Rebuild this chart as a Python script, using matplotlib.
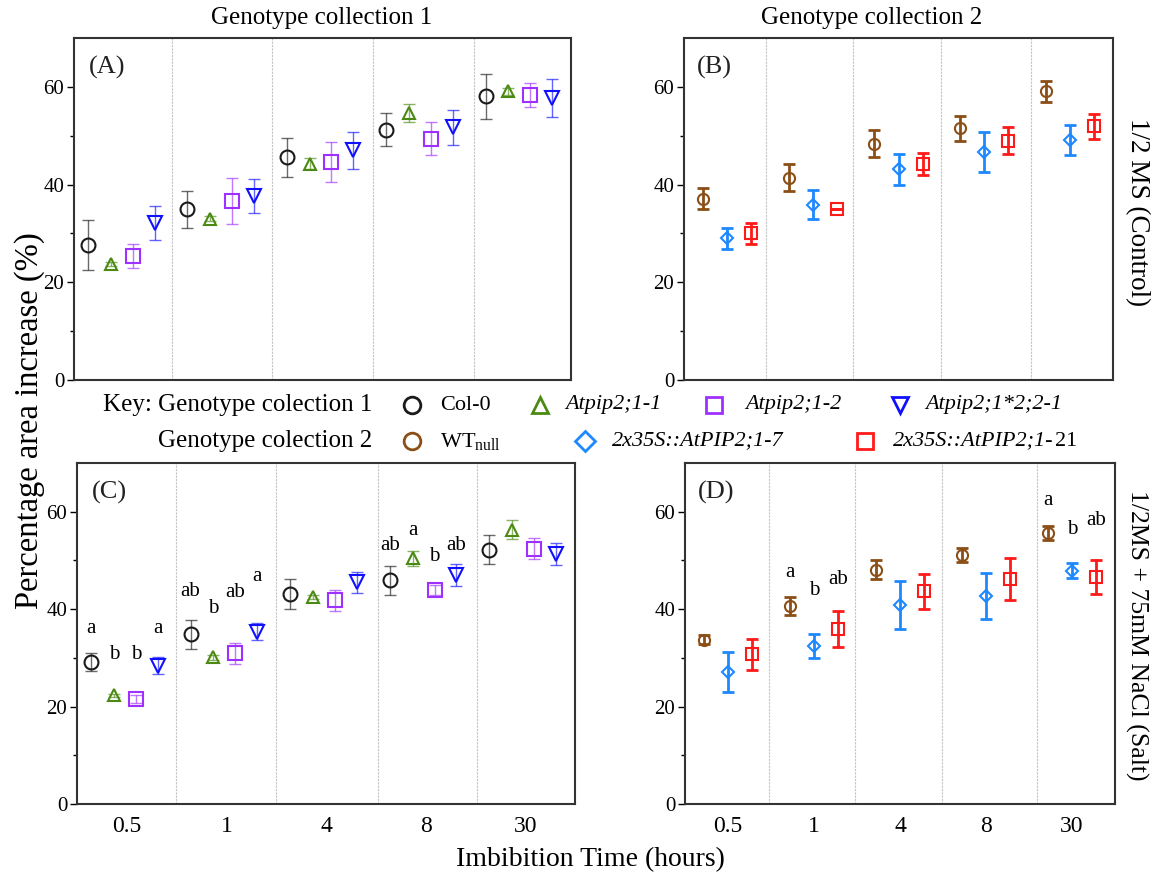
import matplotlib
matplotlib.use('Agg')
import matplotlib.pyplot as plt
import numpy as np

plt.rcParams['font.family'] = ['Liberation Serif', 'DejaVu Serif']
plt.rcParams['mathtext.fontset'] = 'custom'
plt.rcParams['mathtext.rm'] = 'Liberation Serif'
plt.rcParams['mathtext.it'] = 'Liberation Serif:italic'

times = ['0.5', '1', '4', '8', '30']

# genotype collection 1, control (A)
col0_A = [27.7, 34.9, 45.6, 51.2, 58.1]
col0_A_err = [5.1, 3.8, 4.0, 3.4, 4.6]
p11_A = [23.7, 33.0, 44.3, 54.7, 59.1]
p11_A_err = [0.4, 0.5, 1.2, 1.8, 0.7]
p12_A = [25.4, 36.6, 44.7, 49.4, 58.3]
p12_A_err = [2.5, 4.7, 4.1, 3.4, 2.4]
p1221_A = [32.1, 37.6, 47.0, 51.7, 57.8]
p1221_A_err = [3.5, 3.5, 3.8, 3.6, 3.9]

# genotype collection 2, control (B)
wt_B = [37.1, 41.4, 48.4, 51.5, 59.1]
wt_B_err = [2.1, 2.8, 2.8, 2.5, 2.2]
oe7_B = [29.0, 35.9, 43.1, 46.6, 49.1]
oe7_B_err = [2.1, 2.9, 3.1, 4.1, 3.1]
oe21_B = [30.0, 34.9, 44.2, 49.0, 51.9]
oe21_B_err = [2.1, 0.0, 2.2, 2.7, 2.6]

# genotype collection 1, salt (C)
col0_C = [29.2, 34.8, 43.1, 45.9, 52.2]
col0_C_err = [1.8, 3.0, 3.0, 3.0, 3.0]
p11_C = [22.3, 30.1, 42.5, 50.4, 56.3]
p11_C_err = [0.3, 0.5, 0.5, 1.6, 2.0]
p12_C = [21.6, 30.9, 41.8, 44.0, 52.4]
p12_C_err = [0.8, 2.1, 2.2, 1.0, 2.2]
p1221_C = [28.4, 35.4, 45.5, 47.0, 51.3]
p1221_C_err = [1.7, 1.8, 2.2, 2.2, 2.3]

# genotype collection 2, salt (D)
wt_D = [33.7, 40.6, 48.1, 51.1, 55.6]
wt_D_err = [0.9, 1.8, 2.0, 1.5, 1.4]
oe7_D = [27.1, 32.4, 40.9, 42.7, 47.9]
oe7_D_err = [4.2, 2.4, 4.9, 4.8, 1.5]
oe21_D = [30.7, 35.9, 43.7, 46.1, 46.6]
oe21_D_err = [3.1, 3.7, 3.6, 4.3, 3.5]

# significance letters: (group, series, letter, y)
letters_C = [(0, 0, 'a', 36.0), (0, 1, 'b', 30.6), (0, 2, 'b', 30.6), (0, 3, 'a', 36.0),
             (1, 0, 'ab', 43.6), (1, 1, 'b', 40.1), (1, 2, 'ab', 43.5), (1, 3, 'a', 46.8),
             (3, 0, 'ab', 53.0), (3, 1, 'a', 56.1), (3, 2, 'b', 50.8), (3, 3, 'ab', 53.0)]
letters_D = [(1, 0, 'a', 47.6), (1, 1, 'b', 43.9), (1, 2, 'ab', 46.0),
             (4, 0, 'a', 62.2), (4, 1, 'b', 56.4), (4, 2, 'ab', 58.2)]

# styles
c_black = '#1a1a1a'
c_green = '#4b8a12'
c_purple = '#a030ff'
c_blue = '#1010ff'
c_brown = '#8b4e16'
c_lblue = '#1e88ff'
c_red = '#ff1a1a'

set1 = [('o', c_black, 10), ('^', c_green, 9), ('s', c_purple, 10), ('v', c_blue, 10)]
set2 = [('o', c_brown, 8), ('D', c_lblue, 6.5), ('s', c_red, 8)]
off1 = [0.14, 0.37, 0.59, 0.81]
off2 = [0.22, 0.50, 0.78]

W, H = 1158, 881
fig = plt.figure(figsize=(W / 100, H / 100), dpi=100)


def px_axes(l, r, t, b):
    return fig.add_axes([l / W, 1 - b / H, (r - l) / W, (b - t) / H])


axA = px_axes(74, 571, 38, 380)
axB = px_axes(684, 1113, 38, 380)
axC = px_axes(77, 575, 463, 804)
axD = px_axes(685, 1115, 463, 804)

dividers = {'A': [0.99, 1.99, 3.01, 4.02], 'B': [0.96, 1.97, 2.99, 4.04],
            'C': [0.99, 2.0, 3.02, 4.02], 'D': [0.98, 1.98, 2.99, 4.09]}

panels = [
    (axA, 'A', set1, off1, [(col0_A, col0_A_err), (p11_A, p11_A_err), (p12_A, p12_A_err), (p1221_A, p1221_A_err)], None),
    (axB, 'B', set2, off2, [(wt_B, wt_B_err), (oe7_B, oe7_B_err), (oe21_B, oe21_B_err)], None),
    (axC, 'C', set1, off1, [(col0_C, col0_C_err), (p11_C, p11_C_err), (p12_C, p12_C_err), (p1221_C, p1221_C_err)], letters_C),
    (axD, 'D', set2, off2, [(wt_D, wt_D_err), (oe7_D, oe7_D_err), (oe21_D, oe21_D_err)], letters_D),
]

groups = np.arange(len(times))
for ax, name, styles, offs, series, letters in panels:
    first = name in ('A', 'C')
    for (vals, errs), (mk, col, ms), off in zip(series, styles, offs):
        x = groups + off
        if first:
            ax.errorbar(x, vals, yerr=errs, fmt='none', ecolor=col, alpha=0.65,
                        elinewidth=1.0, capsize=4, capthick=1.0, zorder=2)
        else:
            ax.errorbar(x, vals, yerr=errs, fmt='none', ecolor=col,
                        elinewidth=2.0, capsize=4, capthick=2.0, zorder=2)
        ax.plot(x, vals, linestyle='none', marker=mk, markersize=ms,
                markerfacecolor='none', markeredgecolor=col,
                markeredgewidth=1.5, zorder=3)
    if letters:
        for g, s, txt, y in letters:
            ax.text(g + offs[s], y, txt, ha='center', va='center', fontsize=15)
    for d in dividers[name]:
        ax.axvline(d, color='#c4c4c4', lw=0.8, ls=(0, (2, 1)), zorder=1)
    ax.set_xlim(0, 5)
    ax.set_ylim(0, 70)
    ax.set_yticks([0, 20, 40, 60])
    ax.set_yticks([10, 30, 50], minor=True)
    ax.tick_params(axis='y', which='major', direction='out', length=5, width=1, labelsize=15, pad=2)
    ax.tick_params(axis='y', which='minor', direction='out', length=3, width=1)
    ax.set_xticks(groups + 0.5)
    if name in ('C', 'D'):
        ax.set_xticklabels(times, fontsize=17)
        ax.tick_params(axis='x', length=0, pad=9)
    else:
        ax.set_xticklabels([])
        ax.tick_params(axis='x', length=0)
    for sp in ax.spines.values():
        sp.set_linewidth(1.5)
        sp.set_color('#333333')
    ax.text(0.03, 0.915, '(%s)' % name, transform=ax.transAxes, fontsize=19,
            ha='left', va='center', color='#222222')

fig.text(322 / W, 1 - 18 / H, 'Genotype collection 1', ha='center', va='center', fontsize=18)
fig.text(872 / W, 1 - 18 / H, 'Genotype collection 2', ha='center', va='center', fontsize=18)
fig.text(1137 / W, 1 - 212 / H, '1/2 MS (Control)', ha='center', va='center',
         rotation=270, fontsize=19.5)
fig.text(1137 / W, 1 - 635 / H, '1/2MS + 75mM NaCl (Salt)', ha='center', va='center',
         rotation=270, fontsize=18.5)
fig.text(30 / W, 1 - 421 / H, 'Percentage area increase (%)', ha='center', va='center',
         rotation=90, fontsize=23.5)
fig.text(590 / W, 1 - 860 / H, 'Imbibition Time (hours)', ha='center', va='center', fontsize=20)

# key
key = fig.add_axes([0, 0, 1, 1])
key.set_xlim(0, W)
key.set_ylim(H, 0)
key.axis('off')
key.patch.set_alpha(0)

row1, row2 = 405, 441
key.text(372, row1, 'Key: Genotype colection 1', ha='right', va='center', fontsize=18)
key.text(372, row2, 'Genotype colection 2', ha='right', va='center', fontsize=18)
key_names1 = ['Col-0', 'Atpip2;1-1', 'Atpip2;1-2', 'Atpip2;1*2;2-1']
key_style1 = ['normal', 'italic', 'italic', 'italic']
key_x1 = [412, 540, 714, 900]
key_gap1 = [28, 25, 31, 25]
key_names2 = [r'WT$_{\rm null}$', '2x35S::AtPIP2;1-7', '2x35S::AtPIP2;1-']
key_style2 = ['normal', 'italic', 'italic']
key_x2 = [412, 585, 865]
key_gap2 = [28, 27, 28]

for (mk, col, ms), kx, nm, st, gp in zip(set1, key_x1, key_names1, key_style1, key_gap1):
    key.plot([kx], [row1], linestyle='none', marker=mk, markersize=12,
             markerfacecolor='none', markeredgecolor=col, markeredgewidth=2)
    key.text(kx + gp, row1, nm, ha='left', va='center', fontsize=16, fontstyle=st)
last = None
for (mk, col, ms), kx, nm, st, gp in zip(set2, key_x2, key_names2, key_style2, key_gap2):
    key.plot([kx], [row2], linestyle='none', marker=mk, markersize=12 if mk != 'D' else 10,
             markerfacecolor='none', markeredgecolor=col, markeredgewidth=2)
    last = key.text(kx + gp, row2, nm, ha='left', va='center', fontsize=16, fontstyle=st)

# upright "21" after the italic part of the last key entry
renderer = fig.canvas.get_renderer()
bb = last.get_window_extent(renderer=renderer)
key.text(bb.x1 + 1, row2, '21', ha='left', va='center', fontsize=16)

fig.savefig('out.png', dpi=100)
